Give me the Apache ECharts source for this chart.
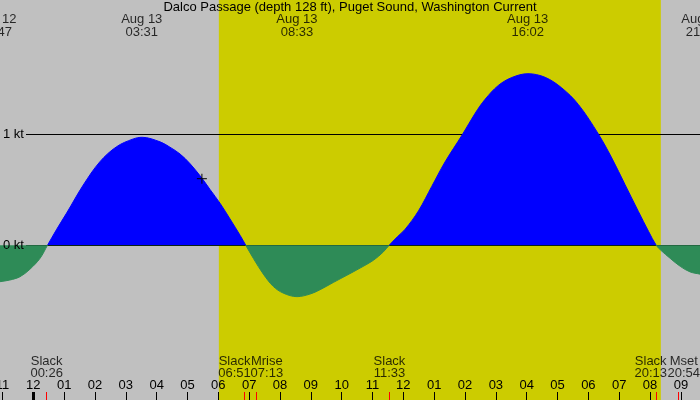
<!DOCTYPE html>
<html>
<head>
<meta charset="utf-8">
<script src="https://cdn.jsdelivr.net/npm/echarts@6/dist/echarts.min.js"></script>
<style>
  html, body { margin: 0; padding: 0; }
  #main { width: 700px; height: 400px; }
</style>
</head>
<body>
<div id="main"></div>
<script>
// hours after midnight Aug 13, knots (+ flood / - ebb)
var currentTimes = [-1.217, -1.08, -0.76, -0.43, -0.11, 0.22, 0.46,
  0.76, 1.08, 1.62, 2.16, 2.7, 3.24, 3.53, 4.11, 4.43, 4.76, 5.08, 5.47, 5.73, 6.06, 6.38, 6.71, 6.89,
  7.14, 7.46, 7.78, 8.1, 8.55, 8.97, 9.30, 9.73, 10.17, 10.6, 11.03, 11.35, 11.54,
  11.8, 12.06, 12.49, 12.92, 13.35, 13.92, 14.33, 14.65, 15.08, 15.52, 16.04, 16.6, 17.14, 17.68, 18.33, 18.76, 19.19, 19.62, 19.95, 20.2,
  20.35, 20.65, 20.98, 21.3, 21.62, 21.68];
var currentKnots = [-0.335, -0.328, -0.313, -0.283, -0.216, -0.117, 0,
  0.145, 0.29, 0.543, 0.753, 0.888, 0.958, 0.973, 0.932, 0.884, 0.822, 0.736, 0.604, 0.503, 0.377, 0.237, 0.088, 0,
  -0.12, -0.26, -0.37, -0.43, -0.463, -0.44, -0.40, -0.335, -0.27, -0.205, -0.135, -0.06, 0,
  0.075, 0.145, 0.31, 0.53, 0.75, 1.0, 1.19, 1.315, 1.44, 1.512, 1.546, 1.513, 1.417, 1.267, 1.0, 0.786, 0.546, 0.306, 0.126, 0,
  -0.045, -0.117, -0.19, -0.24, -0.26, -0.265];

var peakDays = ['Aug 12', 'Aug 13', 'Aug 13', 'Aug 13', 'Aug 13'];
var peakClock = ['22:47', '03:31', '08:33', '16:02', '21:41'];
var peakDayOffset = [-24, 0, 0, 0, 0];

var eventNames = ['Slack', 'Slack', 'Mrise', 'Slack', 'Slack', 'Mset'];
var eventClock = ['00:26', '06:51', '07:13', '11:33', '20:13', '20:54'];
var eventNudge = [0, -10, 11, 0, -6, 6];

var sunrise = '06:01';
var sunset = '20:21';
var nowClock = '05:28';
var nowKnots = 0.60;

var hourTicks = [];
for (var h = -1; h <= 21; h++) hourTicks.push(h);
var midnightTicks = [0];
var levelTicks = [0, 1];

var xMin = -1.08, xMax = 21.62;
var yMin = -1.394, yMax = 2.21;
var font = 'Liberation Sans, Arial, sans-serif';

function toHours(s) {
  var p = s.split(':');
  return +p[0] + p[1] / 60;
}
function hourLabel(v) {
  var n = ((v % 12) + 12) % 12 || 12;
  return (n < 10 ? '0' : '') + n;
}

var currentData = currentTimes.map(function (t, i) { return [t, currentKnots[i]]; });
var eventTimes = eventClock.map(toHours);
var peakData = peakClock.map(function (c, i) {
  return { value: [toHours(c) + peakDayOffset[i], yMax], name: peakDays[i] + '\n' + c };
});
var eventData = eventClock.map(function (c, i) {
  return {
    value: [eventTimes[i], yMin],
    name: eventNames[i] + '\n' + c,
    label: { offset: [eventNudge[i], 0] }
  };
});

function bottomAxis(ticks, color, width, z) {
  return {
    type: 'value', gridIndex: 0, min: xMin, max: xMax, position: 'bottom', z: z,
    axisLine: { show: false, onZero: false },
    splitLine: { show: false },
    axisTick: { inside: true, length: 8, customValues: ticks, lineStyle: { color: color, width: width } },
    axisLabel: { show: false }
  };
}

var myChart = echarts.init(document.getElementById('main'));

var hourAxis = bottomAxis(hourTicks, '#000', 1, 10);
hourAxis.axisLabel = {
  show: true, inside: true, margin: 8, customValues: hourTicks, formatter: hourLabel,
  color: '#000', fontSize: 13, fontFamily: font
};

var option = {
  animation: false,
  backgroundColor: '#c0c0c0',
  title: {
    text: 'Dalco Passage (depth 128 ft), Puget Sound, Washington Current',
    left: 'center',
    top: 1,
    padding: 0,
    textStyle: { fontSize: 13, lineHeight: 13, fontWeight: 'normal', color: '#000', fontFamily: font }
  },
  grid: [
    { left: 0, right: 0, top: 0, bottom: 0, outerBoundsMode: 'none' },
    { left: 26, right: 0, top: 0, bottom: 0, outerBoundsMode: 'none' }
  ],
  visualMap: {
    show: false,
    seriesIndex: 1,
    dimension: 1,
    pieces: [
      { gt: 0, lte: yMax, color: '#0000ff' },
      { gte: yMin, lte: 0, color: '#2e8b57' }
    ]
  },
  xAxis: [
    hourAxis,
    bottomAxis(midnightTicks, '#000', 3, 10),
    bottomAxis(eventTimes, '#ff0000', 1, 11),
    { type: 'value', gridIndex: 1, min: xMin, max: xMax, show: false }
  ],
  yAxis: [
    {
      type: 'value', gridIndex: 0, min: yMin, max: yMax, z: 10,
      axisLine: { show: false },
      splitLine: { show: false },
      axisTick: { show: false },
      axisLabel: {
        inside: true, margin: 3, customValues: levelTicks,
        formatter: function (v) { return v + ' kt'; },
        color: '#000', fontSize: 13, fontFamily: font
      }
    },
    {
      type: 'value', gridIndex: 1, min: yMin, max: yMax, z: 2,
      axisLine: { show: false },
      axisLabel: { show: false },
      axisTick: { show: false, customValues: levelTicks },
      splitLine: { show: true, lineStyle: { color: '#000', width: 1 } }
    }
  ],
  series: [
    {
      name: 'daylight',
      type: 'line',
      z: 1,
      xAxisIndex: 0, yAxisIndex: 0,
      data: [],
      markArea: {
        silent: true,
        itemStyle: { color: '#cccc00' },
        data: [[{ xAxis: toHours(sunrise) }, { xAxis: toHours(sunset) }]]
      }
    },
    {
      name: 'current',
      type: 'line',
      z: 3,
      xAxisIndex: 0, yAxisIndex: 0,
      smooth: 0.35,
      showSymbol: false,
      lineStyle: { width: 1 },
      areaStyle: { opacity: 1, origin: 0 },
      data: currentData
    },
    {
      name: 'now',
      type: 'scatter',
      z: 10,
      xAxisIndex: 0, yAxisIndex: 0,
      symbol: 'path://M0,5L10,5M5,0L5,10',
      symbolSize: 10,
      itemStyle: { color: 'none', borderColor: '#000', borderWidth: 1.2 },
      data: [[toHours(nowClock), nowKnots]]
    },
    {
      name: 'peaks',
      type: 'scatter',
      z: 10,
      clip: false,
      xAxisIndex: 0, yAxisIndex: 0,
      symbolSize: 1,
      itemStyle: { color: 'rgba(0,0,0,0)' },
      label: {
        show: true, position: 'bottom', distance: 13,
        formatter: function (p) { return p.name; },
        color: '#000', fontSize: 13, lineHeight: 12.5, fontFamily: font
      },
      data: peakData
    },
    {
      name: 'events',
      type: 'scatter',
      z: 10,
      clip: false,
      xAxisIndex: 0, yAxisIndex: 0,
      symbolSize: 1,
      itemStyle: { color: 'rgba(0,0,0,0)' },
      label: {
        show: true, position: 'top', distance: 20,
        formatter: function (p) { return p.name; },
        color: '#000', fontSize: 13, lineHeight: 12, fontFamily: font
      },
      data: eventData
    }
  ]
};

myChart.setOption(option);
</script>
</body>
</html>
